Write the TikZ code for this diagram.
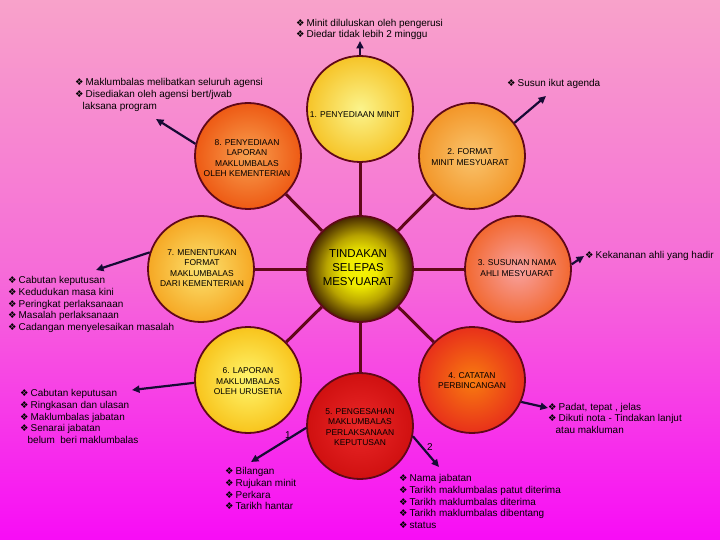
\documentclass[tikz,border=0pt]{standalone}
\usepackage{fontspec}
\setmainfont{Liberation Sans}
\newfontfamily\djv{DejaVu Sans}
\usetikzlibrary{arrows.meta}
\pgfdeclarelayer{bg}
\pgfsetlayers{bg,main}
\definecolor{bgtop}{RGB}{248,162,202}
\definecolor{bgmid}{RGB}{246,108,216}
\definecolor{bgbot}{RGB}{248,12,246}
\definecolor{rim}{RGB}{96,8,24}
\definecolor{arr}{RGB}{22,10,52}
\definecolor{c1in}{RGB}{251,244,140}
\definecolor{c1out}{RGB}{246,196,40}
\definecolor{c2in}{RGB}{249,196,110}
\definecolor{c2out}{RGB}{243,150,40}
\definecolor{c3in}{RGB}{248,162,160}
\definecolor{c3out}{RGB}{242,104,48}
\definecolor{c4in}{RGB}{248,124,16}
\definecolor{c4out}{RGB}{232,48,26}
\definecolor{c5in}{RGB}{234,40,40}
\definecolor{c5out}{RGB}{208,16,16}
\definecolor{c6in}{RGB}{255,246,110}
\definecolor{c6out}{RGB}{248,196,28}
\definecolor{c7in}{RGB}{251,226,112}
\definecolor{c7out}{RGB}{246,168,36}
\definecolor{c8in}{RGB}{248,160,80}
\definecolor{c8out}{RGB}{238,90,20}
\pgfdeclareradialshading{ctrshade}{\pgfpoint{0bp}{0bp}}{%
 rgb(0bp)=(0.96,0.95,0.02);
 rgb(8bp)=(0.94,0.92,0.0);
 rgb(16bp)=(0.72,0.64,0.0);
 rgb(22bp)=(0.42,0.32,0.0);
 rgb(25bp)=(0.28,0.16,0.0);
 rgb(50bp)=(0.28,0.16,0.0)}
\newcommand{\bulx}{{\djv\fontsize{9.5}{8}\selectfont ❖}\hspace{2bp}}
\newcommand{\indx}{\hspace*{7.5bp}}
\tikzset{
 ball/.style={circle, minimum size=106bp, inner sep=0pt, draw=rim, line width=1.8bp},
 lbl/.style={align=center, inner sep=0pt, font=\fontsize{8.5}{10.6}\selectfont},
 lst/.style={align=left, inner sep=0pt, anchor=north west, font=\fontsize{10}{11.8}\selectfont},
 num/.style={inner sep=0pt, anchor=base west, font=\fontsize{10}{12}\selectfont},
 spoke/.style={draw=rim, line width=3bp},
 pt/.style={draw=arr, line width=2.2bp, -{Triangle[length=7.5bp,width=7bp]}},
}
\begin{document}
\begin{tikzpicture}[x=1bp,y=-1bp]
\useasboundingbox (0,0) rectangle (720,540);
% circles
\node[ball, shading=ctrshade] (c0) at (360,269) {};
\node[ball, inner color=c1in, outer color=c1out] (c1) at (360,109) {};
\node[ball, inner color=c2in, outer color=c2out] (c2) at (472,156) {};
\node[ball, inner color=c3in, outer color=c3out] (c3) at (518,269) {};
\node[ball, inner color=c4in, outer color=c4out] (c4) at (472,380) {};
\node[ball, inner color=c5in, outer color=c5out] (c5) at (360,426) {};
\node[ball, inner color=c6in, outer color=c6out] (c6) at (248,380) {};
\node[ball, inner color=c7in, outer color=c7out] (c7) at (201,269) {};
\node[ball, inner color=c8in, outer color=c8out] (c8) at (248,156) {};
\begin{pgfonlayer}{bg}
\shade[top color=bgtop, bottom color=bgbot, middle color=bgmid] (0,0) rectangle (720,540);
\foreach \i in {1,...,8} {\draw[spoke] (c0) -- (c\i);}
\end{pgfonlayer}
% circle labels
\node[lbl, font=\fontsize{11.5}{14}\selectfont] (tc) at (358,268) {TINDAKAN\\SELEPAS\\MESYUARAT};
\node[lbl] (t1) at (355,115) {1. PENYEDIAAN MINIT};
\node[lbl] (t2) at (470,157) {2. FORMAT\\MINIT MESYUARAT};
\node[lbl] (t3) at (517,268) {3. SUSUNAN NAMA\\AHLI MESYUARAT};
\node[lbl] (t4) at (472,380.5) {4. CATATAN\\PERBINCANGAN};
\node[lbl] (t5) at (360,427) {5. PENGESAHAN\\MAKLUMBALAS\\PERLAKSANAAN\\KEPUTUSAN};
\node[lbl] (t6) at (248,381.5) {6. LAPORAN\\MAKLUMBALAS\\OLEH URUSETIA};
\node[lbl] (t7) at (202,268) {7. MENENTUKAN\\FORMAT\\MAKLUMBALAS\\DARI KEMENTERIAN};
\node[lbl] (t8) at (247,158) {8. PENYEDIAAN\\LAPORAN\\MAKLUMBALAS\\OLEH KEMENTERIAN};
% lists
\node[lst] (l1) at (296,18.7) {\bulx Minit diluluskan oleh pengerusi\\\bulx Diedar tidak lebih 2 minggu};
\node[lst] (l2) at (75,78.2) {\bulx Maklumbalas melibatkan seluruh agensi\\\bulx Disediakan oleh agensi bert/jwab\\\indx laksana program};
\node[lst] (l3) at (507,78.7) {\bulx Susun ikut agenda};
\node[lst] (l4) at (585,251.2) {\bulx Kekananan ahli yang hadir};
\node[lst] (l5) at (8,276.2) {\bulx Cabutan keputusan\\\bulx Kedudukan masa kini\\\bulx Peringkat perlaksanaan\\\bulx Masalah perlaksanaan\\\bulx Cadangan menyelesaikan masalah};
\node[lst] (l6) at (20,389.2) {\bulx Cabutan keputusan\\\bulx Ringkasan dan ulasan\\\bulx Maklumbalas jabatan\\\bulx Senarai jabatan\\\indx belum\ \ beri maklumbalas};
\node[lst] (l7) at (548,402.7) {\bulx Padat, tepat , jelas\\\bulx Dikuti nota - Tindakan lanjut\\\indx atau makluman};
\node[lst] (l8) at (225,467.2) {\bulx Bilangan\\\bulx Rujukan minit\\\bulx Perkara\\\bulx Tarikh hantar};
\node[lst] (l9) at (399,474.2) {\bulx Nama jabatan\\\bulx Tarikh maklumbalas patut diterima\\\bulx Tarikh maklumbalas diterima\\\bulx Tarikh maklumbalas dibentang\\\bulx status};
\node[num] (n1) at (285,438) {1};
\node[num] (n2) at (427,450) {2};
% arrows
\coordinate (h1) at (360,41);
\coordinate (h2) at (546,96);
\coordinate (h3) at (584,256);
\coordinate (h4) at (548,408);
\coordinate (h5a) at (251,462);
\coordinate (h5b) at (439,467);
\coordinate (h6) at (132,390);
\coordinate (h7) at (96,270);
\coordinate (h8) at (156,119);
\draw[pt] (c1.north) -- (h1);
\draw[pt] (c2.38) -- (h2);
\draw[pt] (c3.5) -- (h3);
\draw[pt] (c4.-24) -- (h4);
\draw[pt] (c5.182) -- (h5a);
\draw[pt] (c5.-11) -- (h5b);
\draw[pt] (c6.183) -- (h6);
\draw[pt] (c7.162) -- (h7);
\draw[pt] (c8.167) -- (h8);
\end{tikzpicture}
\end{document}
